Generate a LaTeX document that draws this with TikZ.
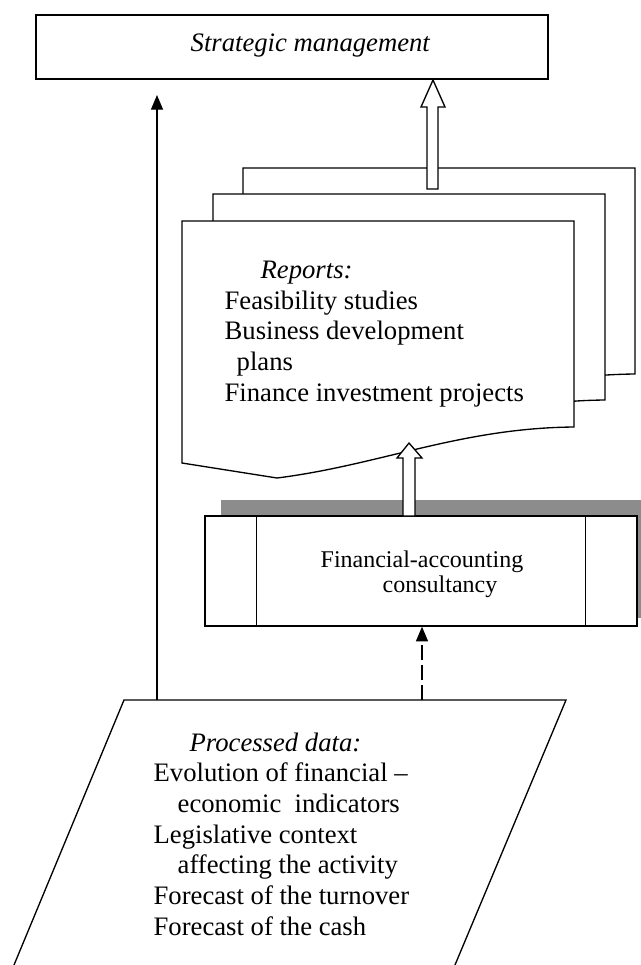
\documentclass[tikz,border=0pt]{standalone}
\usepackage{fontspec}
\setmainfont{Liberation Serif}
\usetikzlibrary{arrows.meta}
\begin{document}
\begin{tikzpicture}[x=0.75pt,y=-0.75pt, line width=1pt,
  box/.style={draw, fill=white, inner sep=0pt},
  txt/.style={inner sep=0pt, align=left, font=\fontsize{20}{23}\selectfont},
  smalltxt/.style={inner sep=0pt, align=left, font=\fontsize{18}{18.75}\selectfont},
  arr/.style={-{Triangle[length=11pt,width=9pt]}},
  sheet/.style={draw, fill=white, line join=miter},
  hollow/.style={draw, fill=white, line join=miter}]
\useasboundingbox (0,0) rectangle (641,965);
\clip (0,0) rectangle (641,965);

% Strategic management
\node[box, minimum width=384pt, minimum height=48pt] (strat) at (292,47) {};
\node[txt, anchor=base west] (strattext) at (190,51) {\textit{Strategic management}};

% stacked report sheets (back to front)
\draw[sheet, shift={(61,-53)}] (182,463) -- (182,221) -- (574,221) -- (574,427) .. controls (460,428) and (380,465) .. (277,478) -- cycle;
\draw[sheet, shift={(31,-27)}] (182,463) -- (182,221) -- (574,221) -- (574,427) .. controls (460,428) and (380,465) .. (277,478) -- cycle;
\draw[sheet] (182,463) -- (182,221) -- (574,221) -- (574,427) .. controls (460,428) and (380,465) .. (277,478) -- cycle;
\node[txt, anchor=base west] (reports) at (224,401)
  {\hspace*{27pt}\textit{Reports:}\\
   Feasibility studies\\
   Business development\\
   \hspace*{9pt}plans\\
   Finance investment projects};

% hollow arrow: reports -> strategic management
\coordinate (bigtip) at (433,80);
\draw[hollow] (427,189) -- (427,107) -- (421,107) -- (bigtip) -- (445,107) -- (438,107) -- (438,189) -- cycle;

% shadow and consultancy box
\fill[black!45] (221,500) rectangle (653,618);
\node[box, minimum width=324pt, minimum height=82.5pt] (fac) at (421,571) {};
\draw ([xshift=39pt]fac.north west) -- ([xshift=39pt]fac.south west);
\draw ([xshift=-39pt]fac.north east) -- ([xshift=-39pt]fac.south east);
\node[smalltxt, anchor=base west] (factext) at (320,592)
  {Financial-accounting\\ \hspace*{46.5pt}consultancy};

% hollow arrow: consultancy -> reports
\coordinate (smalltip) at (409,443);
\draw[hollow] (403,516) -- (403,458) -- (397,458) -- (smalltip) -- (422,458) -- (415,458) -- (415,516) -- cycle;

% processed data parallelogram
\draw[line join=miter] (5.7,985) -- (124,700) -- (566,700) -- (446.6,985);
\node[txt, anchor=base west] (processed) at (153,935)
  {\hspace*{27pt}\textit{Processed data:}\\
   Evolution of financial –\\
   \hspace*{18pt}economic\ \ indicators\\
   Legislative context\\
   \hspace*{18pt}affecting the activity\\
   Forecast of the turnover\\
   Forecast of the cash};

% connectors
\coordinate (pl) at (157,700);
\coordinate (lt) at (157,95);
\draw[arr] (pl) -- (lt);
\coordinate (pd) at (422,700);
\draw[arr, dash pattern=on 11pt off 4pt] (pd) -- (pd |- fac.south);
\end{tikzpicture}
\end{document}
